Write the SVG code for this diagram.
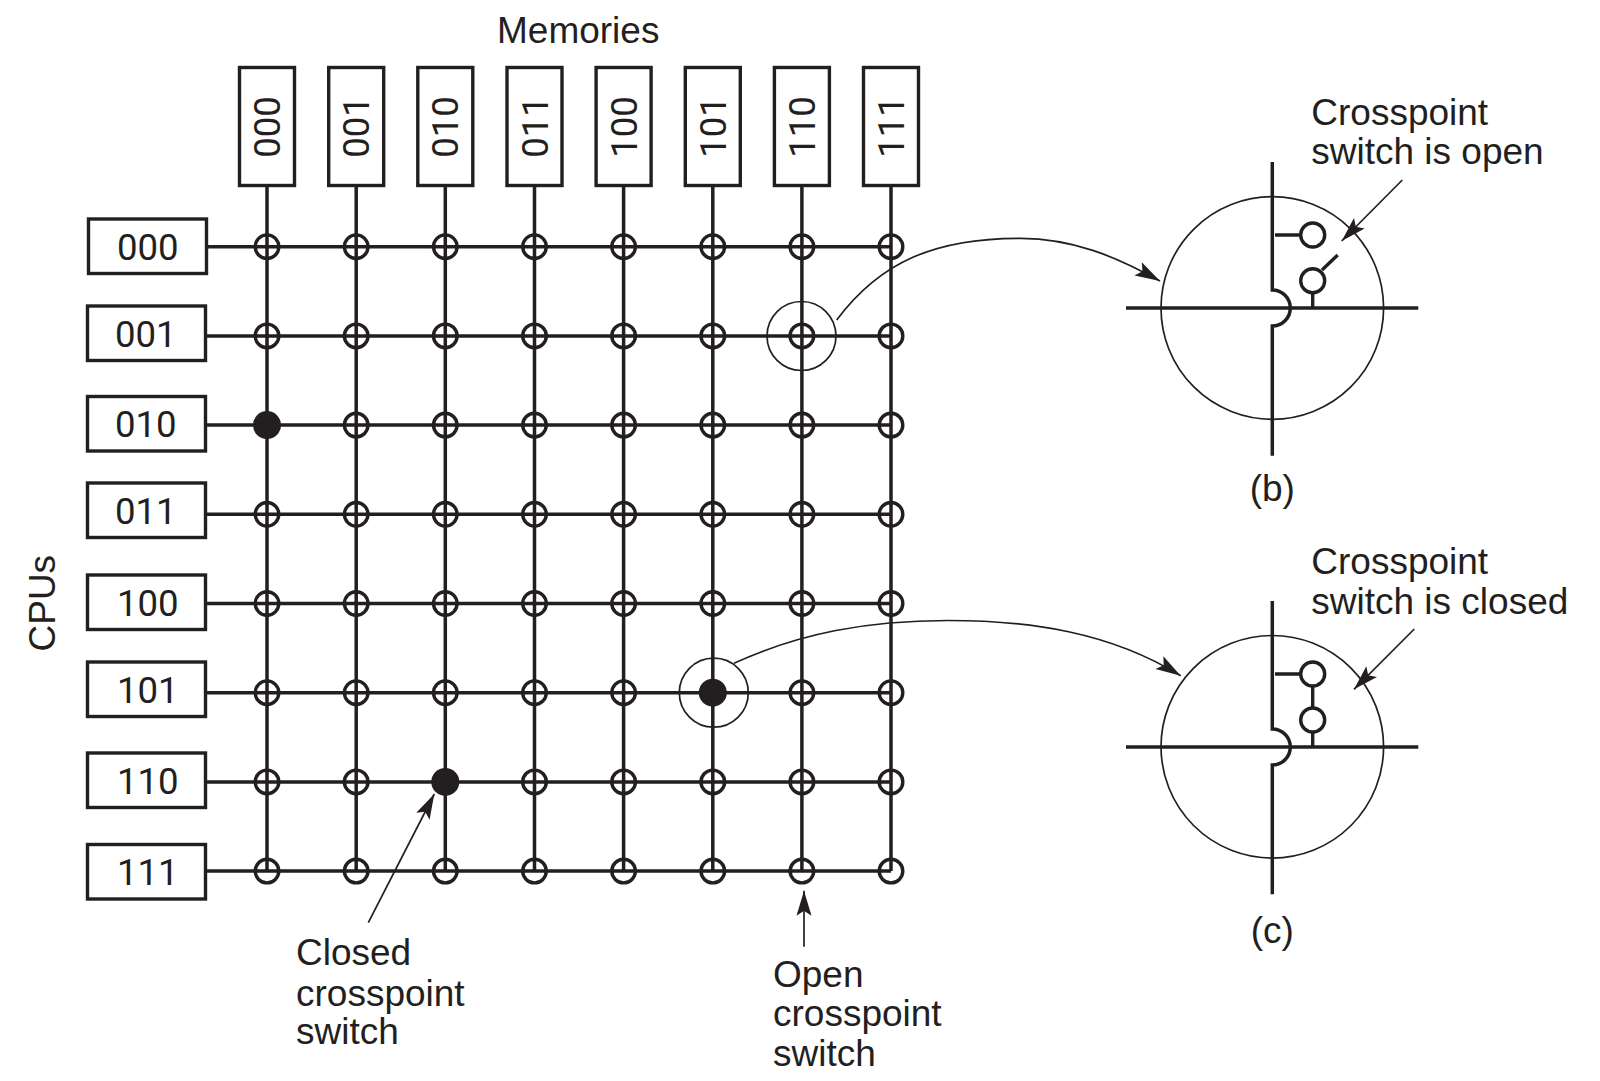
<svg xmlns="http://www.w3.org/2000/svg" width="1600" height="1081" viewBox="0 0 1600 1081">
<style>
text{font-family:"Liberation Sans",Arial,sans-serif;font-size:37px;fill:#231f20}
.d{font-family:Roboto,"Liberation Sans",sans-serif;font-size:36.6px}
.box{fill:#fff;stroke:#231f20;stroke-width:3.4}
.w{fill:none;stroke:#231f20;stroke-width:3.5}
.sw{fill:none;stroke:#231f20;stroke-width:3.4}
.on{fill:#231f20;stroke:none}
.thin{fill:none;stroke:#231f20;stroke-width:1.7}
.arrow{fill:none;stroke:#231f20;stroke-width:1.7;marker-end:url(#head)}
.m{text-anchor:middle}
</style>
<defs>
<marker id="head" markerUnits="userSpaceOnUse" markerWidth="28" markerHeight="20" refX="26" refY="10" orient="auto"><path d="M26 10L1 2.5L6 10L1 17.5Z" fill="#231f20"/></marker>
<circle id="o" r="11.8" class="sw"/>
<circle id="f" r="14" class="on"/>
</defs>
<rect width="1600" height="1081" fill="#fff"/>
<g id="connectors">
<path class="w" d="M267 186V871.1M356.2 186V871.1M445.3 186V871.1M534.5 186V871.1M623.6 186V871.1M712.8 186V871.1M801.9 186V871.1M891 186V871.1"/>
<path class="w" d="M207 246.7H891M206 335.9H891M206 425.1H891M206 514.3H891M206 603.5H891M206 692.7H891M206 781.9H891M206 871.1H891"/>
<path class="arrow" d="M836.7 320C880 262 935 238 1021 238.3C1072 238.5 1115 256 1160 281"/>
<path class="arrow" d="M734 663.3C800 633 868 620.5 948 620.5C1030 620.5 1110 632 1180.7 675.7"/>
<path class="arrow" d="M1402.3 180L1341.7 241"/>
<path class="arrow" d="M1414.3 629L1354 689.3"/>
<path class="arrow" d="M368.3 922.7L434.3 794"/>
<path class="arrow" d="M804 946.7V890.7"/>
</g>
<g id="mem-000"><rect class="box" x="239.5" y="67.5" width="55" height="118"/><text transform="translate(280 127) rotate(-90)" class="m d">000</text></g>
<g id="mem-001"><rect class="box" x="328.7" y="67.5" width="55" height="118"/><text transform="translate(369.2 127) rotate(-90)" class="m d">001</text></g>
<g id="mem-010"><rect class="box" x="417.8" y="67.5" width="55" height="118"/><text transform="translate(458.3 127) rotate(-90)" class="m d">010</text></g>
<g id="mem-011"><rect class="box" x="507" y="67.5" width="55" height="118"/><text transform="translate(547.5 127) rotate(-90)" class="m d">011</text></g>
<g id="mem-100"><rect class="box" x="596.1" y="67.5" width="55" height="118"/><text transform="translate(636.6 127) rotate(-90)" class="m d">100</text></g>
<g id="mem-101"><rect class="box" x="685.3" y="67.5" width="55" height="118"/><text transform="translate(725.8 127) rotate(-90)" class="m d">101</text></g>
<g id="mem-110"><rect class="box" x="774.4" y="67.5" width="55" height="118"/><text transform="translate(814.9 127) rotate(-90)" class="m d">110</text></g>
<g id="mem-111"><rect class="box" x="863.5" y="67.5" width="55" height="118"/><text transform="translate(904 127) rotate(-90)" class="m d">111</text></g>
<g id="cpu-000"><rect class="box" x="88.5" y="219" width="118" height="54.5"/><text x="117" y="259.8" class="d">000</text></g>
<g id="cpu-001"><rect class="box" x="87.5" y="306" width="118" height="54.5"/><text x="115" y="346.5" class="d">001</text></g>
<g id="cpu-010"><rect class="box" x="87.5" y="396.5" width="118" height="54.5"/><text x="115" y="437" class="d">010</text></g>
<g id="cpu-011"><rect class="box" x="87.5" y="483" width="118" height="54.5"/><text x="115" y="524" class="d">011</text></g>
<g id="cpu-100"><rect class="box" x="87.5" y="575" width="118" height="54.5"/><text x="117" y="615.8" class="d">100</text></g>
<g id="cpu-101"><rect class="box" x="87.5" y="662" width="118" height="54.5"/><text x="117" y="702.8" class="d">101</text></g>
<g id="cpu-110"><rect class="box" x="87.5" y="753" width="118" height="54.5"/><text x="117" y="793.8" class="d">110</text></g>
<g id="cpu-111"><rect class="box" x="87.5" y="844.5" width="118" height="54.5"/><text x="117" y="885.2" class="d">111</text></g>
<g id="crosspoints">
<g id="row0"><use href="#o" x="267" y="246.7"/><use href="#o" x="356.2" y="246.7"/><use href="#o" x="445.3" y="246.7"/><use href="#o" x="534.5" y="246.7"/><use href="#o" x="623.6" y="246.7"/><use href="#o" x="712.8" y="246.7"/><use href="#o" x="801.9" y="246.7"/><use href="#o" x="891" y="246.7"/></g>
<g id="row1"><use href="#o" x="267" y="335.9"/><use href="#o" x="356.2" y="335.9"/><use href="#o" x="445.3" y="335.9"/><use href="#o" x="534.5" y="335.9"/><use href="#o" x="623.6" y="335.9"/><use href="#o" x="712.8" y="335.9"/><use href="#o" x="801.9" y="335.9"/><use href="#o" x="891" y="335.9"/></g>
<g id="row2"><use href="#f" x="267" y="425.1"/><use href="#o" x="356.2" y="425.1"/><use href="#o" x="445.3" y="425.1"/><use href="#o" x="534.5" y="425.1"/><use href="#o" x="623.6" y="425.1"/><use href="#o" x="712.8" y="425.1"/><use href="#o" x="801.9" y="425.1"/><use href="#o" x="891" y="425.1"/></g>
<g id="row3"><use href="#o" x="267" y="514.3"/><use href="#o" x="356.2" y="514.3"/><use href="#o" x="445.3" y="514.3"/><use href="#o" x="534.5" y="514.3"/><use href="#o" x="623.6" y="514.3"/><use href="#o" x="712.8" y="514.3"/><use href="#o" x="801.9" y="514.3"/><use href="#o" x="891" y="514.3"/></g>
<g id="row4"><use href="#o" x="267" y="603.5"/><use href="#o" x="356.2" y="603.5"/><use href="#o" x="445.3" y="603.5"/><use href="#o" x="534.5" y="603.5"/><use href="#o" x="623.6" y="603.5"/><use href="#o" x="712.8" y="603.5"/><use href="#o" x="801.9" y="603.5"/><use href="#o" x="891" y="603.5"/></g>
<g id="row5"><use href="#o" x="267" y="692.7"/><use href="#o" x="356.2" y="692.7"/><use href="#o" x="445.3" y="692.7"/><use href="#o" x="534.5" y="692.7"/><use href="#o" x="623.6" y="692.7"/><use href="#f" x="712.8" y="692.7"/><use href="#o" x="801.9" y="692.7"/><use href="#o" x="891" y="692.7"/></g>
<g id="row6"><use href="#o" x="267" y="781.9"/><use href="#o" x="356.2" y="781.9"/><use href="#f" x="445.3" y="781.9"/><use href="#o" x="534.5" y="781.9"/><use href="#o" x="623.6" y="781.9"/><use href="#o" x="712.8" y="781.9"/><use href="#o" x="801.9" y="781.9"/><use href="#o" x="891" y="781.9"/></g>
<g id="row7"><use href="#o" x="267" y="871.1"/><use href="#o" x="356.2" y="871.1"/><use href="#o" x="445.3" y="871.1"/><use href="#o" x="534.5" y="871.1"/><use href="#o" x="623.6" y="871.1"/><use href="#o" x="712.8" y="871.1"/><use href="#o" x="801.9" y="871.1"/><use href="#o" x="891" y="871.1"/></g>
</g>
<g id="highlights"><circle class="thin" cx="801.5" cy="336" r="34.5"/><circle class="thin" cx="713.8" cy="692.7" r="34.5"/></g>
<g id="detail-b">
<circle class="thin" cx="1272.3" cy="308" r="111.3"/>
<path class="w" d="M1126 308H1418.3M1272.3 162V290A18 18 0 0 1 1272.3 326V455.7"/>
<path class="sw" d="M1275 235H1301M1312.7 293V308M1322 270L1337.7 255"/>
<circle class="sw" cx="1312.7" cy="235" r="12"/><circle class="sw" cx="1312.7" cy="280.7" r="12"/>
</g>
<g id="detail-c">
<circle class="thin" cx="1272.3" cy="746.8" r="111.3"/>
<path class="w" d="M1126 747H1418.3M1272.3 601V729A18 18 0 0 1 1272.3 765V894.3"/>
<path class="sw" d="M1275 674H1301M1312.7 686V708M1312.7 732V747"/>
<circle class="sw" cx="1312.7" cy="674" r="12"/><circle class="sw" cx="1312.7" cy="720" r="12"/>
</g>
<g id="labels">
<text x="497" y="43.3">Memories</text>
<text transform="translate(55 651.5) rotate(-90)">CPUs</text>
<text x="1311.3" y="125">Crosspoint</text><text x="1311.3" y="164.3">switch is open</text>
<text x="1272.3" y="500.7" class="m">(b)</text>
<text x="1311.3" y="574.3">Crosspoint</text><text x="1311.3" y="614.3">switch is closed</text>
<text x="1272.3" y="942.5" class="m">(c)</text>
<text x="296" y="965.3">Closed</text><text x="296" y="1005.5">crosspoint</text><text x="296" y="1044.3">switch</text>
<text x="773" y="987.3">Open</text><text x="773" y="1026.3">crosspoint</text><text x="773" y="1065.7">switch</text>
</g>
</svg>
